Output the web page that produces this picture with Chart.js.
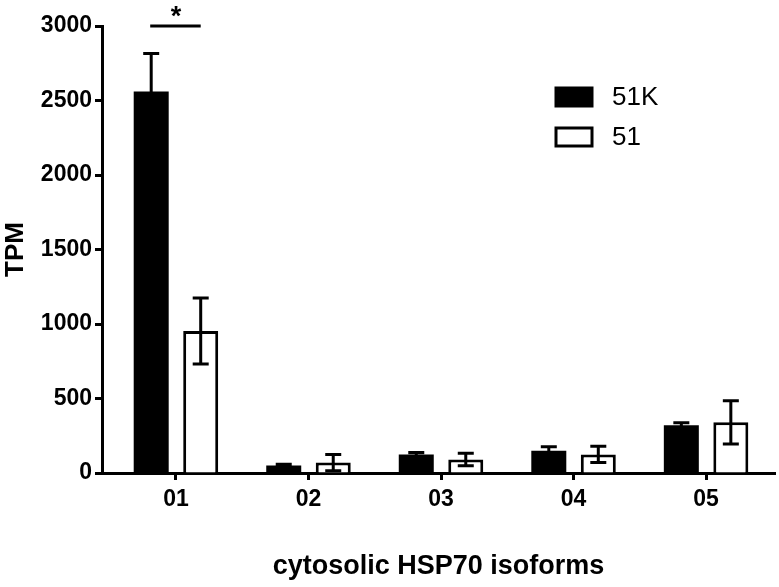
<!DOCTYPE html>
<html><head><meta charset="utf-8">
<script src="https://cdn.jsdelivr.net/npm/chart.js@4/dist/chart.umd.min.js"></script>
<style>html,body{margin:0;padding:0;background:#fff}</style>
</head><body>
<canvas id="c" width="779" height="587"></canvas>
<script>
const categories = ['01', '02', '03', '04', '05'];
const seriesNames = ['51K', '51'];
const values51K = [2560, 50, 125, 150, 320];
const errors51K = [255, 8, 12, 27, 17];
const values51 = [953, 70, 90, 125, 340];
const errors51 = [222, 55, 42, 55, 145];
const yTicks = [0, 500, 1000, 1500, 2000, 2500, 3000];
const significance = { category: 0, value: 3000, label: '*' };

const FONT = '"Liberation Sans", Arial, Helvetica, sans-serif';
const errorsBySeries = [errors51K, errors51];

const errorBarPlugin = {
  id: 'errorBars',
  afterDatasetsDraw(chart) {
    const ctx = chart.ctx, ys = chart.scales.y;
    ctx.save();
    ctx.strokeStyle = '#000';
    ctx.lineWidth = 3;
    chart.data.datasets.forEach((ds, di) => {
      const meta = chart.getDatasetMeta(di);
      meta.data.forEach((el, i) => {
        const v = ds.data[i].y, e = errorsBySeries[di][i];
        const yt = ys.getPixelForValue(v + e), yb = ys.getPixelForValue(v - e);
        const x = el.x, cap = 8;
        ctx.beginPath();
        ctx.moveTo(x, yt); ctx.lineTo(x, yb);
        ctx.moveTo(x - cap, yt); ctx.lineTo(x + cap, yt);
        ctx.moveTo(x - cap, yb); ctx.lineTo(x + cap, yb);
        ctx.stroke();
      });
    });
    // significance bar
    const a = chart.getDatasetMeta(0).data[significance.category];
    const b = chart.getDatasetMeta(1).data[significance.category];
    const sy = ys.getPixelForValue(significance.value);
    ctx.beginPath();
    ctx.moveTo(a.x - 1, sy); ctx.lineTo(b.x, sy);
    ctx.stroke();
    ctx.fillStyle = '#000';
    ctx.font = 'bold 27px ' + FONT;
    ctx.textAlign = 'center';
    ctx.textBaseline = 'alphabetic';
    ctx.fillText(significance.label, (a.x + b.x) / 2, sy - 1);
    ctx.restore();
  }
};

const legendPlugin = {
  id: 'boxLegend',
  afterDraw(chart) {
    const ctx = chart.ctx;
    ctx.save();
    const x0 = 556, y0 = 88, gap = 40, w = 36, h = 18;
    chart.data.datasets.forEach((ds, i) => {
      const y = y0 + i * gap;
      ctx.fillStyle = ds.backgroundColor;
      ctx.fillRect(x0, y, w, h);
      ctx.lineWidth = 3;
      ctx.strokeStyle = '#000';
      ctx.strokeRect(x0, y, w, h);
      ctx.fillStyle = '#000';
      ctx.font = '26px ' + FONT;
      ctx.textAlign = 'left';
      ctx.textBaseline = 'middle';
      ctx.fillText(ds.label, 612, y + h / 2 + 1);
    });
    ctx.restore();
  }
};

new Chart(document.getElementById('c'), {
  type: 'bar',
  data: {
    datasets: [
      {
        label: seriesNames[0],
        data: values51K.map((v, i) => ({ x: i + 1, y: v })),
        backgroundColor: '#000',
        borderColor: '#000',
        borderWidth: 0
      },
      {
        label: seriesNames[1],
        data: values51.map((v, i) => ({ x: i + 1, y: v })),
        backgroundColor: '#fff',
        borderColor: '#000',
        borderWidth: 3
      }
    ]
  },
  options: {
    responsive: false,
    animation: false,
    categoryPercentage: 0.747,
    barPercentage: 0.707,
    layout: { padding: { top: 26, right: 4, left: 0, bottom: 4 } },
    plugins: { legend: { display: false }, tooltip: { enabled: false } },
    scales: {
      x: {
        type: 'linear',
        offset: false,
        min: 0.442,
        max: 5.52,
        afterBuildTicks(scale) { scale.ticks = categories.map((c, i) => ({ value: i + 1 })); },
        ticks: {
          callback: (v) => categories[Math.round(v) - 1],
          font: { family: FONT, size: 23, weight: 'bold' },
          color: '#000',
          padding: 6,
          autoSkip: false,
          maxRotation: 0
        },
        grid: { display: true, offset: false, drawOnChartArea: false, drawTicks: true, tickLength: 7, tickWidth: 3, tickColor: '#000' },
        border: { display: true, width: 3, color: '#000' },
        title: {
          display: true,
          text: 'cytosolic HSP70 isoforms',
          font: { family: FONT, size: 27, weight: 'bold' },
          color: '#000',
          padding: { top: 31, bottom: 0 }
        }
      },
      y: {
        min: 0,
        max: 3000,
        afterBuildTicks(scale) { scale.ticks = yTicks.map(v => ({ value: v })); },
        afterFit(scale) { scale.width = 102; },
        ticks: {
          callback: (v) => String(v),
          font: { family: FONT, size: 23, weight: 'bold' },
          color: '#000',
          padding: 3
        },
        grid: { display: true, drawOnChartArea: false, drawTicks: true, tickLength: 7, tickWidth: 3, tickColor: '#000' },
        border: { display: true, width: 3, color: '#000' },
        title: {
          display: true,
          text: 'TPM',
          font: { family: FONT, size: 26, weight: 'bold' },
          color: '#000',
          padding: { top: 0, bottom: 0 }
        }
      }
    }
  },
  plugins: [errorBarPlugin, legendPlugin]
});
</script>
</body></html>
